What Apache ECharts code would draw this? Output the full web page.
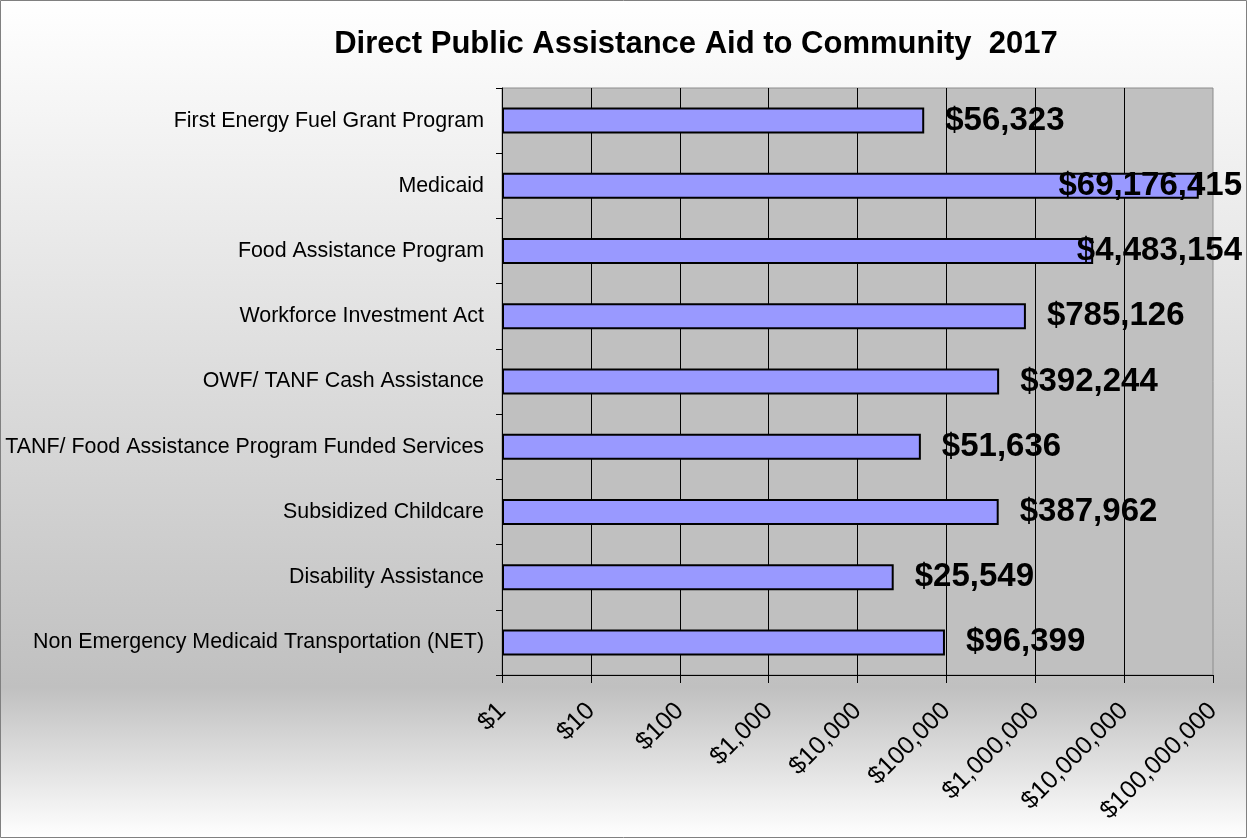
<!DOCTYPE html>
<html>
<head>
<meta charset="utf-8">
<script src="https://cdn.jsdelivr.net/npm/echarts@6/dist/echarts.min.js"></script>
<style>
html,body{margin:0;padding:0;background:#fff;}
#chart{width:1247px;height:838px;}
</style>
</head>
<body>
<div id="chart"></div>
<script>
var titleText = 'Direct Public Assistance Aid to Community  2017';
var categories = [
  'First Energy Fuel Grant Program',
  'Medicaid',
  'Food Assistance Program',
  'Workforce Investment Act',
  'OWF/ TANF Cash Assistance',
  'TANF/ Food Assistance Program Funded Services',
  'Subsidized Childcare',
  'Disability Assistance',
  'Non Emergency Medicaid Transportation (NET)'
];
var values = [56323, 69176415, 4483154, 785126, 392244, 51636, 387962, 25549, 96399];
var axisMin = 1;
var axisMax = 100000000;

function money(v){
  return '$' + Math.round(v).toLocaleString('en-US');
}

var chart = echarts.init(document.getElementById('chart'));
var W = 1247;
chart.setOption({
  animation: false,
  backgroundColor: {
    type: 'linear', x: 0, y: 0, x2: 0, y2: 1,
    colorStops: [
      {offset: 0, color: '#ffffff'},
      {offset: 0.82, color: '#c0c0c0'},
      {offset: 1, color: '#ffffff'}
    ]
  },
  title: {
    text: titleText,
    left: 691, top: 24, textAlign: 'center',
    textStyle: {fontFamily: 'Liberation Sans, Arial, sans-serif', fontSize: 31, fontWeight: 'bold', color: '#000'}
  },
  graphic: [{
    type: 'rect', shape: {x: 0.5, y: 0.5, width: W - 1, height: 837},
    style: {fill: 'none', stroke: '#808080', lineWidth: 1}, silent: true, z: 100
  }],
  grid: {
    left: 502, right: 34, top: 88, bottom: 163,
    show: true, backgroundColor: '#c0c0c0', borderColor: '#8c8c8c', borderWidth: 1
  },
  xAxis: {
    type: 'log', logBase: 10, min: axisMin, max: axisMax,
    axisLine: {show: true, lineStyle: {color: '#000', width: 1}},
    axisTick: {show: true, length: 8, lineStyle: {color: '#000'}},
    splitLine: {show: true, showMaxLine: false, lineStyle: {color: '#000', width: 1}},
    axisLabel: {
      rotate: 45, margin: 32, color: '#000',
      fontFamily: 'Liberation Sans, Arial, sans-serif', fontSize: 25,
      formatter: function(v){ return money(v); }
    }
  },
  yAxis: {
    type: 'category', data: categories, inverse: true,
    axisLine: {show: true, lineStyle: {color: '#000', width: 1}},
    axisTick: {show: true, length: 6, lineStyle: {color: '#000'}},
    axisLabel: {
      color: '#000', margin: 18,
      fontFamily: 'Liberation Sans, Arial, sans-serif', fontSize: 21.4
    }
  },
  series: [{
    type: 'bar', data: values, barWidth: 26,
    itemStyle: {color: '#9999ff', borderColor: '#000', borderWidth: 2},
    label: {
      show: true, position: 'right', distance: 21,
      formatter: function(p){ return money(p.value); },
      fontFamily: 'Liberation Sans, Arial, sans-serif', fontSize: 33, fontWeight: 'bold', color: '#000'
    },
    labelLayout: function(p){
      var r = p.labelRect;
      var maxX = W - 5;
      if (r.x + r.width > maxX) {
        return {x: maxX - r.width, y: r.y + r.height / 2, align: 'left', verticalAlign: 'middle'};
      }
      return {};
    }
  }]
});
</script>
</body>
</html>
